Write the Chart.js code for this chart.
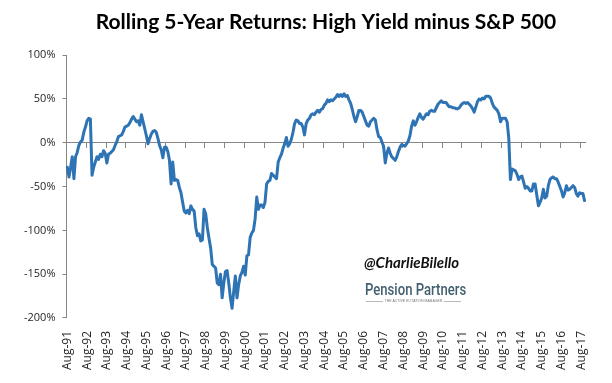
<!DOCTYPE html>
<html><head><meta charset="utf-8">
<script src="https://cdn.jsdelivr.net/npm/chart.js@4.4.1/dist/chart.umd.min.js"></script>
<style>
html,body{margin:0;padding:0;background:#fff;}
#wrap{position:relative;width:612px;height:383px;overflow:hidden;}
canvas{display:block;}
.handle{position:absolute;left:364px;top:253px;font:italic bold 15px "Lato","DejaVu Sans",sans-serif;color:#111;white-space:nowrap;}
.logo{position:absolute;left:365px;top:280px;font:500 16px "Roboto",sans-serif;color:#41606f;white-space:nowrap;transform:scaleX(0.82);transform-origin:0 0;}
.tag{position:absolute;left:366px;top:299px;width:95px;display:flex;align-items:center;gap:2px;}
.tag span{font:3.5px "Liberation Sans",sans-serif;color:#777;white-space:nowrap;}
.tag i{flex:1;height:1px;background:#b8b8b8;display:block;}
</style></head><body>
<div id="wrap"><canvas id="c" width="612" height="383"></canvas>
<div class="handle">@CharlieBilello</div>
<div class="logo">Pension Partners</div>
<div class="tag"><i></i><span>THE ACTIVE ROTATION MANAGER</span><i></i></div>
</div>
<script>
// Monthly series starting Aug-1991
const startYear = 1991;
const startMonth = 7; // 0 = Jan, 7 = Aug
const monthNames = ['Jan','Feb','Mar','Apr','May','Jun','Jul','Aug','Sep','Oct','Nov','Dec'];
const labelMonth = 'Aug';
const titleText = 'Rolling 5-Year Returns: High Yield minus S&P 500';

// High Yield minus S&P 500, rolling 5-year return difference (%)
const spread = [
 -28,-39,-28,-16,-41,-16,-11,-3,1,3,12,18,
 25,28,27,-37,-28,-22,-16,-19,-13,-16,-9,-12,
 -23,-13,-12,-10,-8,-3,1,7,8,9,13,18,
 19,20,23,27,30,27,24,25,20,32,24,16,
 8,-1,5,10,13,14,12,5,-3,-8,-17,-5,
 -5,-10,-20,-47,-22,-43,-42,-43,-51,-57,-68,-78,
 -80,-77,-81,-72,-76,-78,-97,-106,-104,-112,-111,-76,
 -81,-97,-109,-120,-139,-141,-143,-160,-162,-150,-177,-160,
 -147,-146,-160,-177,-189,-170,-152,-177,-162,-152,-148,-141,
 -151,-129,-128,-108,-103,-100,-87,-62,-76,-71,-71,-74,
 -68,-47,-44,-43,-35,-37,-39,-41,-22,-17,-13,-6,
 -1,6,-4,-1,4,12,22,26,25,22,22,18,
 9,22,26,28,32,33,32,35,37,35,38,39,
 43,45,49,47,49,48,50,52,55,53,55,53,
 56,53,54,49,45,38,30,24,30,37,37,35,
 30,25,20,19,24,26,28,26,15,7,6,1,
 -4,-23,-12,-6,-12,-16,-18,-20,-16,-10,-5,-2,
 -3,-4,-1,2,8,19,25,20,24,29,33,29,
 27,30,33,32,36,37,36,36,40,44,46,48,
 46,46,46,43,41,41,40,40,39,39,40,43,
 45,46,45,46,44,42,39,35,41,47,50,49,
 51,50,53,53,53,51,45,41,39,37,33,24,
 28,28,28,24,5,-42,-30,-31,-32,-36,-42,-39,
 -38,-45,-52,-50,-52,-55,-55,-47,-47,-60,-72,-68,
 -63,-53,-63,-61,-49,-42,-40,-39,-41,-41,-45,-50,
 -55,-62,-57,-49,-54,-53,-51,-49,-51,-58,-61,-57,
 -58,-58,-66
];

const yMin = -200, yMax = 100;
const yTickValues = [-200,-150,-100,-50,0,50,100];

const labels = spread.map((_, i) => {
  const m = (startMonth + i) % 12;
  const y = startYear + Math.floor((startMonth + i) / 12);
  return monthNames[m] + '-' + String(y % 100).padStart(2, '0');
});

const axisGray = '#868686';
const textColor = '#262626';

new Chart(document.getElementById('c'), {
  type: 'line',
  data: {
    labels: labels,
    datasets: [{
      data: spread,
      borderColor: '#2e74b5',
      borderWidth: 3,
      pointRadius: 0,
      tension: 0,
      fill: false,
      borderJoinStyle: 'round',
      borderCapStyle: 'round',
      xAxisID: 'x',
      yAxisID: 'y'
    }]
  },
  options: {
    responsive: false,
    animation: false,
    layout: { padding: { left: 17, right: 8, top: 0, bottom: 0 } },
    plugins: {
      legend: { display: false },
      tooltip: { enabled: false },
      title: {
        display: true,
        text: titleText,
        fullSize: false,
        color: '#000',
        font: { family: 'Lato', weight: 'bold', size: 21 },
        padding: { top: 10, bottom: 20 }
      }
    },
    scales: {
      x: {
        type: 'category',
        offset: true,
        grid: { display: false, drawTicks: false },
        border: { display: false },
        ticks: {
          autoSkip: false,
          minRotation: 90,
          maxRotation: 90,
          padding: 13,
          color: textColor,
          font: { family: 'Open Sans', size: 12 },
          callback: function (v) {
            const l = this.getLabelForValue(v);
            return l.startsWith(labelMonth) ? l : '';
          }
        }
      },
      x2: {
        type: 'category',
        position: { y: 0 },
        offset: true,
        grid: {
          offset: true,
          drawOnChartArea: false,
          drawTicks: true,
          tickLength: 5,
          lineWidth: 1,
          color: (ctx) => (ctx.index > 0 && ctx.index % 12 === 0) ? axisGray : 'rgba(0,0,0,0)'
        },
        border: { display: true, color: axisGray, width: 1 },
        ticks: { display: false }
      },
      y: {
        min: yMin,
        max: yMax,
        afterBuildTicks: (s) => { s.ticks = yTickValues.map(v => ({ value: v })); },
        grid: { drawOnChartArea: false, drawTicks: true, tickLength: 4, color: axisGray },
        border: { display: true, color: axisGray, width: 1 },
        ticks: {
          padding: 7,
          color: textColor,
          font: { family: 'Open Sans', size: 11 },
          callback: (v) => v + '%'
        }
      }
    }
  }
});
</script>
</body></html>
